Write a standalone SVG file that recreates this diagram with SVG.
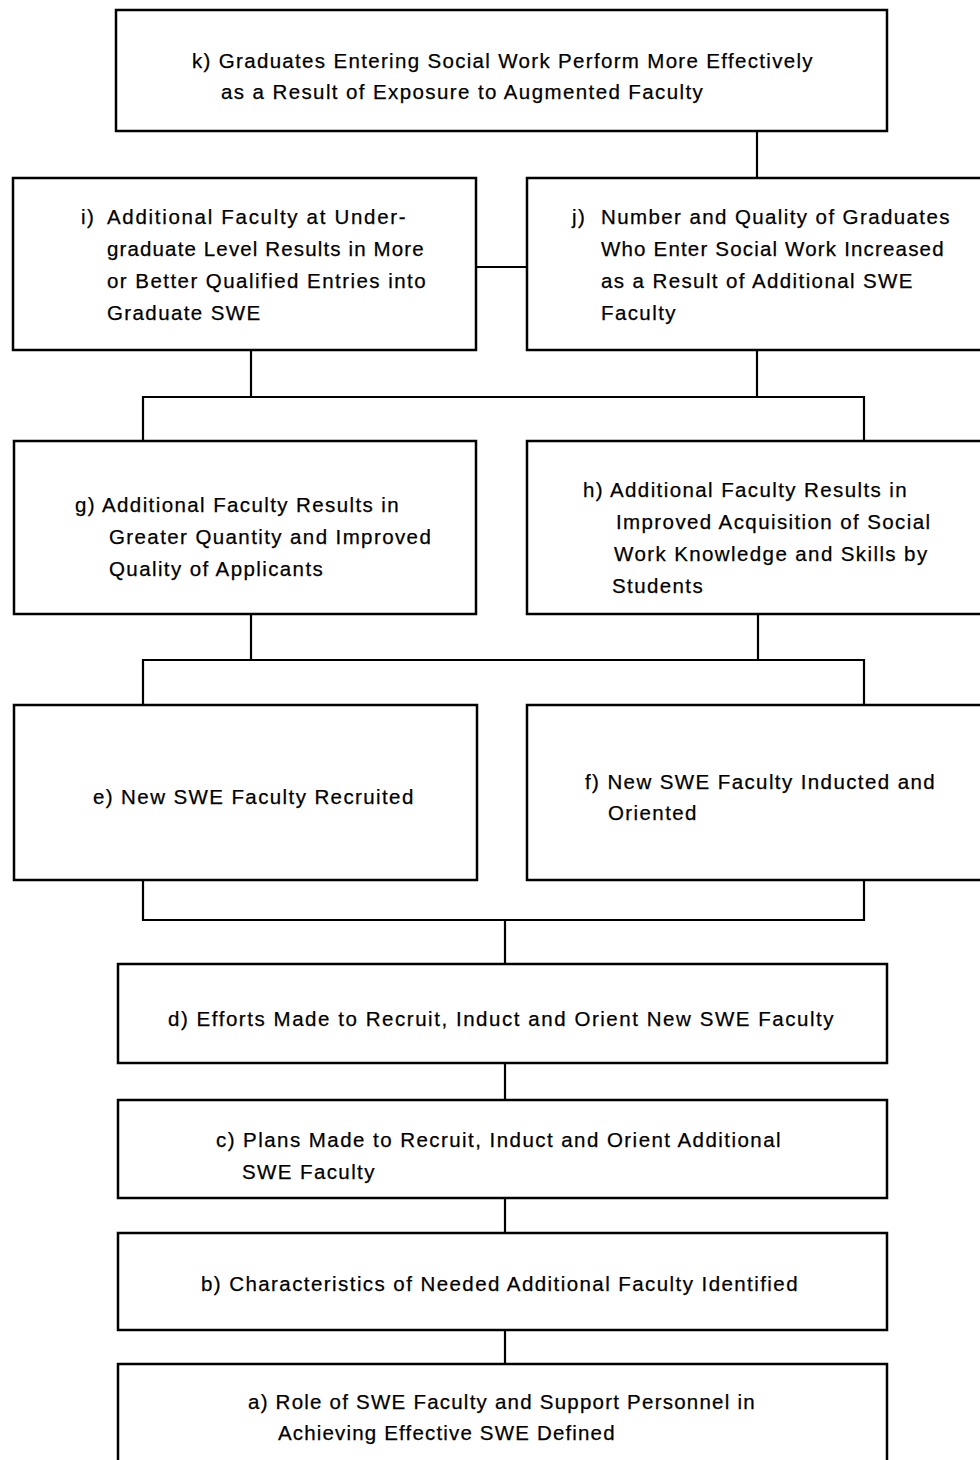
<svg xmlns="http://www.w3.org/2000/svg" width="980" height="1460" viewBox="0 0 980 1460">
  <style>
    .box { fill: #ffffff; stroke: #000000; stroke-width: 2.5; }
    .wire { fill: none; stroke: #000000; stroke-width: 2.2; stroke-linecap: square; }
    text { font-family: "Liberation Sans", Arial, sans-serif; font-size: 20.5px; fill: #000000; letter-spacing: 1.4px; stroke: #000000; stroke-width: 0.25; }
  </style>
  <rect width="980" height="1460" fill="#ffffff"/>

  <!-- connectors -->
  <g id="connectors">
    <path class="wire" d="M757 131 V178"/>
    <path class="wire" d="M476 267 H527"/>
    <path class="wire" d="M251 350 V397 M757 350 V397 M143 397 H864 M143 397 V441 M864 397 V441"/>
    <path class="wire" d="M251 614 V660 M758 614 V660 M143 660 H864 M143 660 V705 M864 660 V705"/>
    <path class="wire" d="M143 880 V920 M864 880 V920 M143 920 H864 M505 920 V964"/>
    <path class="wire" d="M505 1063 V1100"/>
    <path class="wire" d="M505 1198 V1233"/>
    <path class="wire" d="M505 1330 V1364"/>
  </g>

  <!-- k -->
  <g id="node-k">
    <rect class="box" x="116" y="10" width="771" height="121"/>
    <text x="192" y="68" textLength="622" lengthAdjust="spacing">k) Graduates Entering Social Work Perform More Effectively</text>
    <text x="221" y="99">as a Result of Exposure to Augmented Faculty</text>
  </g>

  <!-- i -->
  <g id="node-i">
    <rect class="box" x="13" y="178" width="463" height="172"/>
    <text x="81" y="224">i)</text>
    <text x="107" y="224" textLength="300" lengthAdjust="spacing">Additional Faculty at Under-</text>
    <text x="107" y="256" textLength="318" lengthAdjust="spacing">graduate Level Results in More</text>
    <text x="107" y="288" textLength="320" lengthAdjust="spacing">or Better Qualified Entries into</text>
    <text x="107" y="320">Graduate SWE</text>
  </g>

  <!-- j -->
  <g id="node-j">
    <rect class="box" x="527" y="178" width="470" height="172"/>
    <text x="572" y="224">j)</text>
    <text x="601" y="224">Number and Quality of Graduates</text>
    <text x="601" y="256" textLength="344" lengthAdjust="spacing">Who Enter Social Work Increased</text>
    <text x="601" y="288">as a Result of Additional SWE</text>
    <text x="601" y="320">Faculty</text>
  </g>

  <!-- g -->
  <g id="node-g">
    <rect class="box" x="14" y="441" width="462" height="173"/>
    <text x="75" y="512">g) Additional Faculty Results in</text>
    <text x="109" y="544">Greater Quantity and Improved</text>
    <text x="109" y="576">Quality of Applicants</text>
  </g>

  <!-- h -->
  <g id="node-h">
    <rect class="box" x="527" y="441" width="470" height="173"/>
    <text x="583" y="497">h) Additional Faculty Results in</text>
    <text x="616" y="529">Improved Acquisition of Social</text>
    <text x="614" y="561">Work Knowledge and Skills by</text>
    <text x="612" y="593">Students</text>
  </g>

  <!-- e -->
  <g id="node-e">
    <rect class="box" x="14" y="705" width="463" height="175"/>
    <text x="93" y="804">e) New SWE Faculty Recruited</text>
  </g>

  <!-- f -->
  <g id="node-f">
    <rect class="box" x="527" y="705" width="470" height="175"/>
    <text x="585" y="789">f) New SWE Faculty Inducted and</text>
    <text x="608" y="820">Oriented</text>
  </g>

  <!-- d -->
  <g id="node-d">
    <rect class="box" x="118" y="964" width="769" height="99"/>
    <text x="168" y="1026" textLength="667" lengthAdjust="spacing">d) Efforts Made to Recruit, Induct and Orient New SWE Faculty</text>
  </g>

  <!-- c -->
  <g id="node-c">
    <rect class="box" x="118" y="1100" width="769" height="98"/>
    <text x="216" y="1147" textLength="566" lengthAdjust="spacing">c) Plans Made to Recruit, Induct and Orient Additional</text>
    <text x="242" y="1179">SWE Faculty</text>
  </g>

  <!-- b -->
  <g id="node-b">
    <rect class="box" x="118" y="1233" width="769" height="97"/>
    <text x="201" y="1291" textLength="598" lengthAdjust="spacing">b) Characteristics of Needed Additional Faculty Identified</text>
  </g>

  <!-- a -->
  <g id="node-a">
    <rect class="box" x="118" y="1364" width="769" height="110"/>
    <text x="248" y="1409" textLength="508" lengthAdjust="spacing">a) Role of SWE Faculty and Support Personnel in</text>
    <text x="278" y="1440" textLength="338" lengthAdjust="spacing">Achieving Effective SWE Defined</text>
  </g>
</svg>
